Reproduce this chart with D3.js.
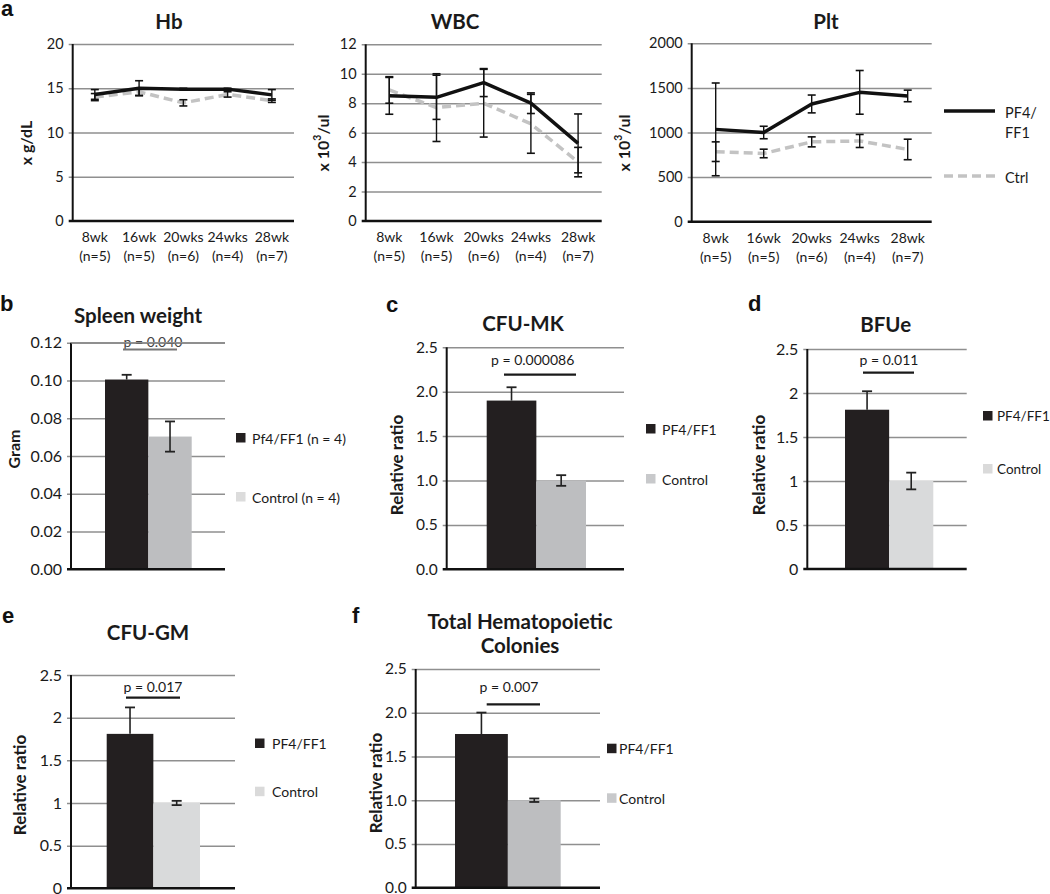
<!DOCTYPE html>
<html><head><meta charset="utf-8">
<script src="https://cdn.jsdelivr.net/npm/d3@7"></script>
<style>
body{margin:0;background:#fff}
text{font-family:Lato,"Open Sans",sans-serif;fill:#1a1a1a}
</style>
</head><body>
<svg id="fig" width="1050" height="894"></svg>
<script>
// ---------- data ----------
const weeks = ["8wk","16wk","20wks","24wks","28wk"];
const nLabels = ["(n=5)","(n=5)","(n=6)","(n=4)","(n=7)"];

const hbPF4 = [14.3, 15.0, 14.9, 14.9, 14.25];
const hbPF4Err = [0.55, 0.85, 0.1, 0.1, 0.6];
const hbCtrl = [14.0, 14.6, 13.35, 14.3, 13.6];
const hbCtrlErr = [0.4, 0.4, 0.35, 0.3, 0.2];
const hbTicks = [0, 5, 10, 15, 20];

const wbcPF4 = [8.5, 8.4, 9.4, 8.0, 5.27];
const wbcPF4Err = [1.25, 1.5, 0.95, 0.7, 2.0];
const wbcCtrl = [8.9, 7.7, 8.0, 6.6, 4.0];
const wbcCtrlErr = [0.9, 2.3, 2.3, 2.0, 1.0];
const wbcTicks = [0, 2, 4, 6, 8, 10, 12];

const pltPF4 = [1035, 1000, 1320, 1450, 1410];
const pltPF4Err = [520, 70, 100, 245, 65];
const pltCtrl = [785, 765, 895, 905, 810];
const pltCtrlErr = [110, 48, 56, 73, 115];
const pltTicks = [0, 500, 1000, 1500, 2000];

const groups = ["PF4/FF1", "Control"];
const spleenVals = [0.1005, 0.0703];
const spleenErr = [0.0025, 0.008];
const spleenTicks = [0, 0.02, 0.04, 0.06, 0.08, 0.10, 0.12];
const spleenTickLabels = ["0.00","0.02","0.04","0.06","0.08","0.10","0.12"];
const spleenLegend = ["Pf4/FF1 (n = 4)", "Control (n = 4)"];

const mkVals = [1.9, 1.0];
const mkErr = [0.15, 0.06];
const bfueVals = [1.81, 1.0];
const bfueErr = [0.21, 0.095];
const gmVals = [1.81, 1.0];
const gmErr = [0.31, 0.025];
const totVals = [1.757, 1.0];
const totErr = [0.245, 0.02];
const ratioTicks = [0, 0.5, 1, 1.5, 2, 2.5];
const ratioLabels1 = ["0.0","0.5","1.0","1.5","2.0","2.5"];
const ratioLabels2 = ["0","0.5","1","1.5","2","2.5"];

// ---------- drawing ----------
const svg = d3.select("#fig");
const GRID = "#8f8f8f", DARK = "#231f20";

function panelLetter(t, x, y){
  svg.append("text").attr("x",x).attr("y",y).text(t)
    .style("font-family","'Liberation Sans',Arial,sans-serif")
    .style("font-weight","bold").style("font-size","22px").style("fill","#111");
}
function title(lines, cx, ys){
  lines.forEach((l,i)=>svg.append("text").attr("x",cx).attr("y",ys[i])
    .attr("text-anchor","middle").style("font-weight","bold").style("font-size","20.5px").text(l));
}
function yLabel(parts, cx, cy, fs){
  const t = svg.append("text").attr("transform",`translate(${cx},${cy}) rotate(-90)`)
    .attr("text-anchor","middle").attr("dominant-baseline","central")
    .style("font-weight","bold").style("font-size",fs+"px");
  parts.forEach(p=>{
    const s = t.append("tspan").text(p.t);
    if(p.sup) s.attr("dy",-5).style("font-size",(fs*0.65)+"px");
    if(p.down) s.attr("dy",5);
  });
}
function yAxis(g, y, x0, x1, ticks, labels, fs){
  const ax = d3.axisLeft(y).tickValues(ticks).tickFormat((d,i)=>labels[i])
    .tickSizeInner(-(x1-x0)).tickSizeOuter(0).tickPadding(10);
  const a = g.append("g").attr("transform",`translate(${x0},0)`).call(ax);
  a.select(".domain").remove();
  a.selectAll(".tick line").attr("x1",-4).attr("stroke",GRID).attr("stroke-width",1.5)
    .filter(d=>d===0).remove();
  a.selectAll(".tick text").style("font-size",fs+"px").style("font-family","Lato,sans-serif")
    .attr("fill","#1a1a1a").attr("x",-9);
  return a;
}

function lineChart(o){
  const g = svg.append("g");
  const x = d3.scaleBand().domain(weeks).range([o.x0,o.x1]).padding(0);
  const y = d3.scaleLinear().domain([0,d3.max(o.ticks)]).range([o.yBot,o.yTop]);
  yAxis(g, y, o.x0, o.x1, o.ticks, o.ticks.map(String), 14.5);
  g.append("line").attr("x1",o.x0).attr("x2",o.x0).attr("y1",o.yTop).attr("y2",o.yBot)
    .attr("stroke","#111").attr("stroke-width",2);
  g.append("line").attr("x1",o.x0-4).attr("x2",o.x1).attr("y1",o.yBot).attr("y2",o.yBot)
    .attr("stroke","#111").attr("stroke-width",2.5);
  const xa = g.append("g").attr("transform",`translate(0,${o.yBot})`)
    .call(d3.axisBottom(x).tickSize(0).tickFormat(""));
  xa.select(".domain").remove();
  xa.selectAll(".tick").each(function(d,i){
    const t = d3.select(this).append("text").attr("text-anchor","middle")
      .style("font-size","14px").style("fill","#1a1a1a");
    t.append("tspan").attr("x",0).attr("y",21).text(d);
    t.append("tspan").attr("x",0).attr("y",40).text(nLabels[i]);
  });
  const cx = d=>x(d)+x.bandwidth()/2;
  const line = d3.line().x((d,i)=>cx(weeks[i])).y(d=>y(d));
  g.append("path").attr("d",line(o.ctrl)).attr("fill","none").attr("stroke","#c3c3c3")
    .attr("stroke-width",3.5).attr("stroke-dasharray","9,5");
  g.append("path").attr("d",line(o.pf4)).attr("fill","none").attr("stroke","#111")
    .attr("stroke-width",3.5).attr("stroke-linejoin","round");
  [[o.pf4,o.pf4Err],[o.ctrl,o.ctrlErr]].forEach(([v,e])=>{
    v.forEach((val,i)=>{
      const xc = cx(weeks[i]), yt = y(val+e[i]), yb = y(val-e[i]);
      g.append("line").attr("x1",xc).attr("x2",xc).attr("y1",yt).attr("y2",yb)
        .attr("stroke","#111").attr("stroke-width",1.4);
      [yt,yb].forEach(yy=>g.append("line").attr("x1",xc-4).attr("x2",xc+4)
        .attr("y1",yy).attr("y2",yy).attr("stroke","#111").attr("stroke-width",1.6));
    });
  });
  title([o.title], o.titleX, [29]);
  yLabel(o.ylab, o.ylabX, 143, 16);
}

function barChart(o){
  const g = svg.append("g");
  const x = d3.scaleBand().domain(groups).range([o.barL,o.barR]).padding(0);
  const y = d3.scaleLinear().domain([0,d3.max(o.ticks)]).range([o.yBot,o.yTop]);
  yAxis(g, y, o.x0, o.x1, o.ticks, o.labels, o.fs);
  groups.forEach((k,i)=>{
    g.append("rect").attr("x",x(k)).attr("width",x.bandwidth())
      .attr("y",y(o.vals[i])).attr("height",o.yBot-y(o.vals[i]))
      .attr("fill", i===0 ? DARK : o.ctrlColor);
  });
  g.append("line").attr("x1",o.x0).attr("x2",o.x0).attr("y1",o.yTop).attr("y2",o.yBot)
    .attr("stroke","#111").attr("stroke-width",2);
  g.append("line").attr("x1",o.x0-4).attr("x2",o.x1).attr("y1",o.yBot).attr("y2",o.yBot)
    .attr("stroke","#111").attr("stroke-width",2.5);
  groups.forEach((k,i)=>{
    const xc = x(k)+x.bandwidth()/2;
    const yt = y(o.vals[i]+o.err[i]);
    const yb = i===0 ? y(o.vals[i]) : y(o.vals[i]-o.err[i]);
    g.append("line").attr("x1",xc).attr("x2",xc).attr("y1",yt).attr("y2",yb)
      .attr("stroke","#222").attr("stroke-width",1.6);
    const caps = i===0 ? [yt] : [yt,yb];
    caps.forEach(yy=>g.append("line").attr("x1",xc-5).attr("x2",xc+5)
      .attr("y1",yy).attr("y2",yy).attr("stroke","#222").attr("stroke-width",1.8));
  });
  g.append("text").attr("x",o.pX).attr("y",o.pY).attr("text-anchor","middle")
    .style("font-size","14px").style("fill",o.pColor||"#1a1a1a").text(o.p);
  g.append("line").attr("x1",o.pL).attr("x2",o.pR).attr("y1",o.pLineY).attr("y2",o.pLineY)
    .attr("stroke",o.pLineColor||"#1a1a1a").attr("stroke-width",2.2);
  if(o.strike){
    g.append("line").attr("x1",o.x0).attr("x2",o.x1).attr("y1",y(d3.max(o.ticks))).attr("y2",y(d3.max(o.ticks)))
      .attr("stroke",GRID).attr("stroke-width",1.5);
  }
  const legTxt = o.legend || groups;
  legTxt.forEach((t,i)=>{
    g.append("rect").attr("x",o.legX).attr("y",o.legY[i]-5).attr("width",9.5).attr("height",9.5)
      .attr("fill", i===0 ? DARK : o.legCtrlColor);
    g.append("text").attr("x",o.legX+o.legGap).attr("y",o.legY[i]).attr("dominant-baseline","central")
      .style("font-size",(o.legFs||14)+"px").text(t);
  });
  title(o.title, o.titleX, o.titleY);
  yLabel([{t:o.ylab}], o.ylabX, o.ylabY, o.ylabFs||17);
}

// ---- panel a ----
panelLetter("a", 1, 16);
lineChart({x0:72.7,x1:294,yTop:44,yBot:221,ticks:hbTicks,pf4:hbPF4,pf4Err:hbPF4Err,ctrl:hbCtrl,ctrlErr:hbCtrlErr,
  title:"Hb", titleX:169, ylab:[{t:"x g/dL"}], ylabX:25});
lineChart({x0:365.7,x1:601.7,yTop:44.3,yBot:221,ticks:wbcTicks,pf4:wbcPF4,pf4Err:wbcPF4Err,ctrl:wbcCtrl,ctrlErr:wbcCtrlErr,
  title:"WBC", titleX:455, ylab:[{t:"x 10"},{t:"3",sup:true},{t:"/ul",down:true}], ylabX:322});
lineChart({x0:691.7,x1:931.7,yTop:43.3,yBot:221.7,ticks:pltTicks,pf4:pltPF4,pf4Err:pltPF4Err,ctrl:pltCtrl,ctrlErr:pltCtrlErr,
  title:"Plt", titleX:826, ylab:[{t:"x 10"},{t:"3",sup:true},{t:"/ul",down:true}], ylabX:623});
svg.append("line").attr("x1",944).attr("x2",995).attr("y1",111).attr("y2",111).attr("stroke","#111").attr("stroke-width",3.5);
svg.append("line").attr("x1",944).attr("x2",995).attr("y1",176).attr("y2",176).attr("stroke","#c3c3c3").attr("stroke-width",3.5).attr("stroke-dasharray","9,5");
svg.append("text").attr("x",1005).attr("y",112).attr("dominant-baseline","central").style("font-size","14.5px").text("PF4/");
svg.append("text").attr("x",1005).attr("y",132).attr("dominant-baseline","central").style("font-size","14.5px").text("FF1");
svg.append("text").attr("x",1005).attr("y",177).attr("dominant-baseline","central").style("font-size","14.5px").text("Ctrl");

// ---- panel b ----
panelLetter("b", 0, 311);
barChart({x0:71,x1:225,yTop:342.7,yBot:569.3,barL:105,barR:191.7,ticks:spleenTicks,labels:spleenTickLabels,fs:16,
  vals:spleenVals,err:spleenErr,ctrlColor:"#bdbec0",legCtrlColor:"#dcdcdc",
  p:"p = 0.040",pX:153,pY:347,pL:123,pR:177,pLineY:349.5,pColor:"#444",pLineColor:"#777",strike:true,
  legend:spleenLegend,legX:236,legY:[438,497],legGap:16,
  title:["Spleen weight"],titleX:138,titleY:[323],ylab:"Gram",ylabX:12.5,ylabY:449,ylabFs:16});

// ---- panel c ----
panelLetter("c", 386, 312);
barChart({x0:446.7,x1:624,yTop:347.3,yBot:569.3,barL:486.7,barR:586,ticks:ratioTicks,labels:ratioLabels1,fs:15.5,
  vals:mkVals,err:mkErr,ctrlColor:"#bdbec0",legCtrlColor:"#c8c9cb",
  p:"p = 0.000086",pX:532.7,pY:365,pL:504,pR:576,pLineY:374.7,
  legX:646,legY:[429,479],legGap:16,
  title:["CFU-MK"],titleX:523,titleY:[331],ylab:"Relative ratio",ylabX:396,ylabY:465});

// ---- panel d ----
panelLetter("d", 748, 311);
barChart({x0:807.3,x1:966.7,yTop:349,yBot:569,barL:845,barR:933.3,ticks:ratioTicks,labels:ratioLabels2,fs:16,
  vals:bfueVals,err:bfueErr,ctrlColor:"#d9dadb",legCtrlColor:"#dadada",
  p:"p = 0.011",pX:889,pY:365,pL:863,pR:914,pLineY:372.7,
  legX:983,legY:[416,469],legGap:14,legFs:13.5,
  title:["BFUe"],titleX:885.7,titleY:[332],ylab:"Relative ratio",ylabX:758,ylabY:465});

// ---- panel e ----
panelLetter("e", 2, 623);
barChart({x0:71,x1:235,yTop:675,yBot:888.3,barL:106.7,barR:200,ticks:ratioTicks,labels:ratioLabels2,fs:16,
  vals:gmVals,err:gmErr,ctrlColor:"#d9dadb",legCtrlColor:"#dadada",
  p:"p = 0.017",pX:153,pY:692,pL:126,pR:180,pLineY:697.7,
  legX:255,legY:[743.5,791.7],legGap:17,
  title:["CFU-GM"],titleX:148,titleY:[640],ylab:"Relative ratio",ylabX:19,ylabY:785});

// ---- panel f ----
panelLetter("f", 352, 623);
barChart({x0:415.7,x1:600,yTop:669,yBot:887.7,barL:455,barR:560.7,ticks:ratioTicks,labels:ratioLabels1,fs:15.5,
  vals:totVals,err:totErr,ctrlColor:"#bdbec0",legCtrlColor:"#c8c9cb",
  p:"p = 0.007",pX:509,pY:692,pL:486.7,pR:540,pLineY:704.3,
  legX:607,legY:[748.7,798.3],legGap:12,
  title:["Total Hematopoietic","Colonies"],titleX:520,titleY:[629,653],ylab:"Relative ratio",ylabX:375,ylabY:783});
</script>
</body></html>
